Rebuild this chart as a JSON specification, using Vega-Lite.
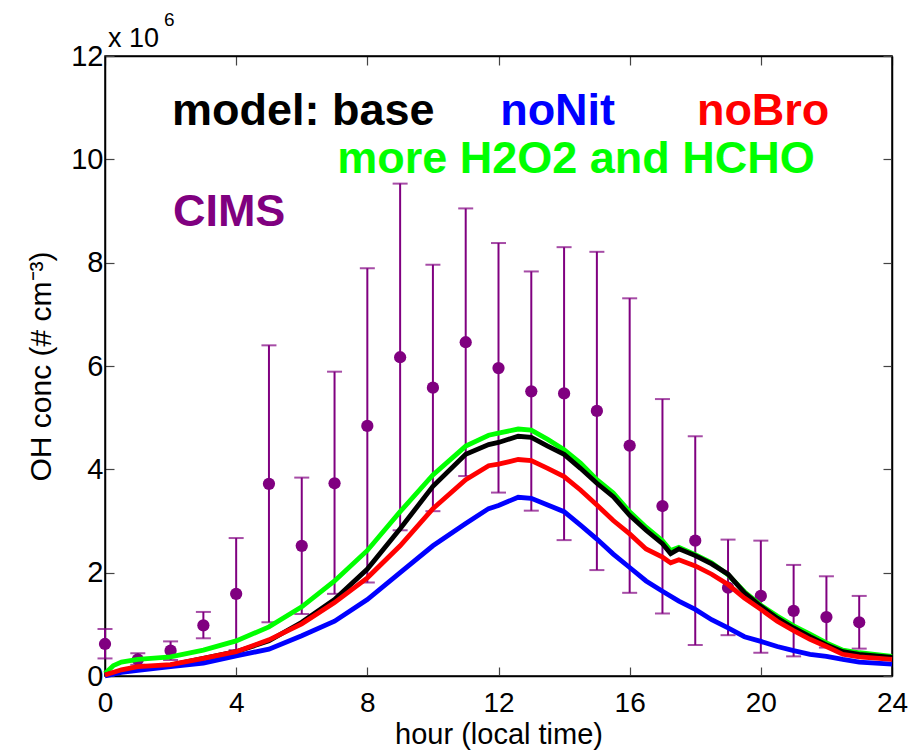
{
  "$schema": "https://vega.github.io/schema/vega-lite/v6.json",
  "width": 787,
  "height": 620,
  "autosize": {"type": "none"},
  "padding": {"left": 105, "top": 56, "right": 22, "bottom": 80},
  "background": "white",
  "config": {
    "view": {"stroke": "black", "strokeWidth": 1.5},
    "font": "Liberation Sans"
  },
  "datasets": {
    "cims": [
      {"hour": 0, "conc": 0.62, "lo": 0.34, "hi": 0.91},
      {"hour": 1, "conc": 0.32, "lo": 0.22, "hi": 0.44},
      {"hour": 2, "conc": 0.49, "lo": 0.31, "hi": 0.67},
      {"hour": 3, "conc": 0.98, "lo": 0.73, "hi": 1.24},
      {"hour": 4, "conc": 1.59, "lo": 0.50, "hi": 2.67},
      {"hour": 5, "conc": 3.72, "lo": 1.04, "hi": 6.40},
      {"hour": 6, "conc": 2.52, "lo": 1.20, "hi": 3.84},
      {"hour": 7, "conc": 3.73, "lo": 1.59, "hi": 5.89},
      {"hour": 8, "conc": 4.84, "lo": 1.81, "hi": 7.89},
      {"hour": 9, "conc": 6.17, "lo": 2.82, "hi": 9.53},
      {"hour": 10, "conc": 5.58, "lo": 3.19, "hi": 7.96},
      {"hour": 11, "conc": 6.46, "lo": 3.87, "hi": 9.05},
      {"hour": 12, "conc": 5.96, "lo": 3.55, "hi": 8.38},
      {"hour": 13, "conc": 5.51, "lo": 3.20, "hi": 7.83},
      {"hour": 14, "conc": 5.47, "lo": 2.63, "hi": 8.30},
      {"hour": 15, "conc": 5.13, "lo": 2.05, "hi": 8.21},
      {"hour": 16, "conc": 4.46, "lo": 1.61, "hi": 7.31},
      {"hour": 17, "conc": 3.29, "lo": 1.21, "hi": 5.36},
      {"hour": 18, "conc": 2.62, "lo": 0.60, "hi": 4.64},
      {"hour": 19, "conc": 1.71, "lo": 0.79, "hi": 2.64},
      {"hour": 20, "conc": 1.55, "lo": 0.45, "hi": 2.62},
      {"hour": 21, "conc": 1.26, "lo": 0.38, "hi": 2.15},
      {"hour": 22, "conc": 1.14, "lo": 0.55, "hi": 1.93},
      {"hour": 23, "conc": 1.04, "lo": 0.53, "hi": 1.55}
    ],
    "more": [
      {"hour": 0, "conc": 0.05}, {"hour": 0.25, "conc": 0.2}, {"hour": 0.5, "conc": 0.27},
      {"hour": 1, "conc": 0.32}, {"hour": 2, "conc": 0.37}, {"hour": 3, "conc": 0.5},
      {"hour": 4, "conc": 0.68}, {"hour": 5, "conc": 0.95}, {"hour": 6, "conc": 1.34},
      {"hour": 7, "conc": 1.84}, {"hour": 8, "conc": 2.43}, {"hour": 9, "conc": 3.18},
      {"hour": 10, "conc": 3.89}, {"hour": 11, "conc": 4.45}, {"hour": 11.7, "conc": 4.66},
      {"hour": 12, "conc": 4.70}, {"hour": 12.6, "conc": 4.78}, {"hour": 13, "conc": 4.76},
      {"hour": 13.5, "conc": 4.58}, {"hour": 14, "conc": 4.38}, {"hour": 14.5, "conc": 4.12},
      {"hour": 15, "conc": 3.80}, {"hour": 15.5, "conc": 3.54}, {"hour": 16, "conc": 3.18},
      {"hour": 16.5, "conc": 2.88}, {"hour": 17, "conc": 2.62}, {"hour": 17.25, "conc": 2.43},
      {"hour": 17.5, "conc": 2.49}, {"hour": 18, "conc": 2.35}, {"hour": 18.5, "conc": 2.19},
      {"hour": 19, "conc": 1.96}, {"hour": 19.5, "conc": 1.63}, {"hour": 20, "conc": 1.37},
      {"hour": 20.5, "conc": 1.16}, {"hour": 21, "conc": 0.97}, {"hour": 21.5, "conc": 0.81},
      {"hour": 22, "conc": 0.64}, {"hour": 22.5, "conc": 0.50}, {"hour": 23, "conc": 0.45},
      {"hour": 24, "conc": 0.38}
    ],
    "base": [
      {"hour": 0, "conc": 0.02}, {"hour": 0.5, "conc": 0.1}, {"hour": 1, "conc": 0.14},
      {"hour": 2, "conc": 0.21}, {"hour": 3, "conc": 0.34}, {"hour": 4, "conc": 0.47},
      {"hour": 5, "conc": 0.68}, {"hour": 6, "conc": 1.04}, {"hour": 7, "conc": 1.48},
      {"hour": 8, "conc": 2.07}, {"hour": 9, "conc": 2.85}, {"hour": 10, "conc": 3.67},
      {"hour": 11, "conc": 4.29}, {"hour": 11.7, "conc": 4.48}, {"hour": 12, "conc": 4.52},
      {"hour": 12.6, "conc": 4.64}, {"hour": 13, "conc": 4.62}, {"hour": 13.5, "conc": 4.45},
      {"hour": 14, "conc": 4.29}, {"hour": 14.5, "conc": 4.02}, {"hour": 15, "conc": 3.73},
      {"hour": 15.5, "conc": 3.47}, {"hour": 16, "conc": 3.11}, {"hour": 16.5, "conc": 2.82},
      {"hour": 17, "conc": 2.56}, {"hour": 17.25, "conc": 2.37}, {"hour": 17.5, "conc": 2.46},
      {"hour": 18, "conc": 2.33}, {"hour": 18.5, "conc": 2.17}, {"hour": 19, "conc": 1.97},
      {"hour": 19.5, "conc": 1.61}, {"hour": 20, "conc": 1.35}, {"hour": 20.5, "conc": 1.12},
      {"hour": 21, "conc": 0.93}, {"hour": 21.5, "conc": 0.76}, {"hour": 22, "conc": 0.60},
      {"hour": 22.5, "conc": 0.47}, {"hour": 23, "conc": 0.42}, {"hour": 24, "conc": 0.36}
    ],
    "noNit": [
      {"hour": 0, "conc": 0.0}, {"hour": 0.5, "conc": 0.07}, {"hour": 1, "conc": 0.11},
      {"hour": 2, "conc": 0.18}, {"hour": 3, "conc": 0.25}, {"hour": 4, "conc": 0.39},
      {"hour": 5, "conc": 0.52}, {"hour": 6, "conc": 0.78}, {"hour": 7, "conc": 1.06},
      {"hour": 8, "conc": 1.48}, {"hour": 9, "conc": 2.0}, {"hour": 10, "conc": 2.52},
      {"hour": 11, "conc": 2.95}, {"hour": 11.7, "conc": 3.24}, {"hour": 12, "conc": 3.30},
      {"hour": 12.6, "conc": 3.46}, {"hour": 13, "conc": 3.44}, {"hour": 13.5, "conc": 3.31},
      {"hour": 14, "conc": 3.18}, {"hour": 14.5, "conc": 2.92}, {"hour": 15, "conc": 2.65},
      {"hour": 15.5, "conc": 2.36}, {"hour": 16, "conc": 2.10}, {"hour": 16.5, "conc": 1.84},
      {"hour": 17, "conc": 1.64}, {"hour": 17.5, "conc": 1.45}, {"hour": 18, "conc": 1.29},
      {"hour": 18.5, "conc": 1.09}, {"hour": 19, "conc": 0.93}, {"hour": 19.5, "conc": 0.76},
      {"hour": 20, "conc": 0.67}, {"hour": 20.5, "conc": 0.57}, {"hour": 21, "conc": 0.49},
      {"hour": 21.5, "conc": 0.42}, {"hour": 22, "conc": 0.38}, {"hour": 22.5, "conc": 0.32},
      {"hour": 23, "conc": 0.27}, {"hour": 24, "conc": 0.23}
    ],
    "noBro": [
      {"hour": 0, "conc": 0.02}, {"hour": 0.5, "conc": 0.12}, {"hour": 1, "conc": 0.18},
      {"hour": 2, "conc": 0.22}, {"hour": 3, "conc": 0.34}, {"hour": 4, "conc": 0.47},
      {"hour": 5, "conc": 0.70}, {"hour": 6, "conc": 1.01}, {"hour": 7, "conc": 1.42},
      {"hour": 8, "conc": 1.90}, {"hour": 9, "conc": 2.52}, {"hour": 10, "conc": 3.24},
      {"hour": 11, "conc": 3.80}, {"hour": 11.7, "conc": 4.07}, {"hour": 12, "conc": 4.10},
      {"hour": 12.6, "conc": 4.19}, {"hour": 13, "conc": 4.17}, {"hour": 13.5, "conc": 4.02},
      {"hour": 14, "conc": 3.86}, {"hour": 14.5, "conc": 3.60}, {"hour": 15, "conc": 3.31},
      {"hour": 15.5, "conc": 3.01}, {"hour": 16, "conc": 2.75}, {"hour": 16.5, "conc": 2.46},
      {"hour": 17, "conc": 2.30}, {"hour": 17.25, "conc": 2.19}, {"hour": 17.5, "conc": 2.25},
      {"hour": 18, "conc": 2.13}, {"hour": 18.5, "conc": 1.97}, {"hour": 19, "conc": 1.77},
      {"hour": 19.5, "conc": 1.51}, {"hour": 20, "conc": 1.29}, {"hour": 20.5, "conc": 1.06},
      {"hour": 21, "conc": 0.88}, {"hour": 21.5, "conc": 0.71}, {"hour": 22, "conc": 0.57},
      {"hour": 22.5, "conc": 0.42}, {"hour": 23, "conc": 0.37}, {"hour": 24, "conc": 0.32}
    ],
    "labels": [
      {"name": "base", "hour": 2.04, "conc": 10.66, "text": "model: base"},
      {"name": "noNit", "hour": 12.05, "conc": 10.66, "text": "noNit"},
      {"name": "noBro", "hour": 18.05, "conc": 10.66, "text": "noBro"},
      {"name": "more", "hour": 7.08, "conc": 9.73, "text": "more H2O2 and HCHO"},
      {"name": "cims", "hour": 2.07, "conc": 8.71, "text": "CIMS"}
    ],
    "expo": [
      {"hour": 0.09, "conc": 12.17, "text": "x 10"}
    ],
    "expo6": [
      {"hour": 1.8, "conc": 12.58, "text": "6"}
    ]
  },
  "resolve": {"axis": {"x": "independent", "y": "independent"}},
  "layer": [
    {
      "data": {"name": "cims"},
      "mark": {"type": "rule", "color": "#800080", "strokeWidth": 2},
      "encoding": {
        "x": {"field": "hour", "type": "quantitative", "scale": {"domain": [0, 24], "nice": false},
          "axis": {"orient": "bottom", "values": [0, 4, 8, 12, 16, 20, 24], "tickSize": -9, "tickColor": "#444444", "tickWidth": 1.2,
            "domainColor": "black", "domainWidth": 1.5, "grid": false, "labelFlush": false,
            "labelFont": "Liberation Sans", "labelFontSize": 28, "labelColor": "black", "labelPadding": 22,
            "title": "hour (local time)", "titleFont": "Liberation Sans", "titleFontSize": 29, "titleFontWeight": "normal", "titleColor": "black", "titlePadding": 3}},
        "y": {"field": "lo", "type": "quantitative", "scale": {"domain": [0, 12], "nice": false},
          "axis": {"orient": "left", "values": [0, 2, 4, 6, 8, 10, 12], "tickSize": -9, "tickColor": "#444444", "tickWidth": 1.2,
            "domainColor": "black", "domainWidth": 1.5, "grid": false, "labelFlush": false,
            "labelFont": "Liberation Sans", "labelFontSize": 29, "labelColor": "black", "labelPadding": 11,
            "title": "OH conc (# cm⁻³)", "titleFont": "Liberation Sans", "titleFontSize": 30, "titleFontWeight": "normal", "titleColor": "black", "titlePadding": 14}},
        "y2": {"field": "hi"}
      }
    },
    {
      "data": {"name": "cims"},
      "mark": {"type": "tick", "color": "#800080", "orient": "horizontal", "size": 15, "thickness": 2},
      "encoding": {
        "x": {"field": "hour", "type": "quantitative", "axis": null},
        "y": {"field": "lo", "type": "quantitative", "axis": null}
      }
    },
    {
      "data": {"name": "cims"},
      "mark": {"type": "tick", "color": "#800080", "orient": "horizontal", "size": 15, "thickness": 2},
      "encoding": {
        "x": {"field": "hour", "type": "quantitative", "axis": null},
        "y": {"field": "hi", "type": "quantitative", "axis": null}
      }
    },
    {
      "data": {"name": "cims"},
      "mark": {"type": "point", "filled": true, "shape": "circle", "color": "#800080", "size": 150, "opacity": 1},
      "encoding": {
        "x": {"field": "hour", "type": "quantitative", "axis": null},
        "y": {"field": "conc", "type": "quantitative", "axis": null}
      }
    },
    {
      "data": {"name": "more"},
      "mark": {"type": "line", "color": "#00FF00", "strokeWidth": 4.8},
      "encoding": {
        "x": {"field": "hour", "type": "quantitative",
          "axis": {"orient": "top", "values": [0, 4, 8, 12, 16, 20, 24], "tickSize": -9, "tickColor": "#444444", "tickWidth": 1.2,
            "domainColor": "black", "domainWidth": 1.5, "grid": false, "labels": false, "title": null}},
        "y": {"field": "conc", "type": "quantitative",
          "axis": {"orient": "right", "values": [0, 2, 4, 6, 8, 10, 12], "tickSize": -9, "tickColor": "#444444", "tickWidth": 1.2,
            "domainColor": "black", "domainWidth": 1.5, "grid": false, "labels": false, "title": null}}
      }
    },
    {
      "data": {"name": "base"},
      "mark": {"type": "line", "color": "#000000", "strokeWidth": 4.8},
      "encoding": {
        "x": {"field": "hour", "type": "quantitative", "axis": null},
        "y": {"field": "conc", "type": "quantitative", "axis": null}
      }
    },
    {
      "data": {"name": "noNit"},
      "mark": {"type": "line", "color": "#0000FF", "strokeWidth": 4.8},
      "encoding": {
        "x": {"field": "hour", "type": "quantitative", "axis": null},
        "y": {"field": "conc", "type": "quantitative", "axis": null}
      }
    },
    {
      "data": {"name": "noBro"},
      "mark": {"type": "line", "color": "#FF0000", "strokeWidth": 4.8},
      "encoding": {
        "x": {"field": "hour", "type": "quantitative", "axis": null},
        "y": {"field": "conc", "type": "quantitative", "axis": null}
      }
    },
    {
      "data": {"name": "labels"},
      "mark": {"type": "text", "align": "left", "baseline": "alphabetic", "font": "Liberation Sans", "fontWeight": "bold", "fontSize": 45},
      "encoding": {
        "x": {"field": "hour", "type": "quantitative", "axis": null},
        "y": {"field": "conc", "type": "quantitative", "axis": null},
        "text": {"field": "text"},
        "color": {"field": "name", "type": "nominal", "legend": null,
          "scale": {"domain": ["base", "noNit", "noBro", "more", "cims"], "range": ["#000000", "#0000FF", "#FF0000", "#00FF00", "#800080"]}}
      }
    },
    {
      "data": {"name": "expo"},
      "mark": {"type": "text", "align": "left", "baseline": "alphabetic", "font": "Liberation Sans", "fontSize": 27, "color": "black"},
      "encoding": {
        "x": {"field": "hour", "type": "quantitative", "axis": null},
        "y": {"field": "conc", "type": "quantitative", "axis": null},
        "text": {"field": "text"}
      }
    },
    {
      "data": {"name": "expo6"},
      "mark": {"type": "text", "align": "left", "baseline": "alphabetic", "font": "Liberation Sans", "fontSize": 19, "color": "black"},
      "encoding": {
        "x": {"field": "hour", "type": "quantitative", "axis": null},
        "y": {"field": "conc", "type": "quantitative", "axis": null},
        "text": {"field": "text"}
      }
    }
  ]
}
